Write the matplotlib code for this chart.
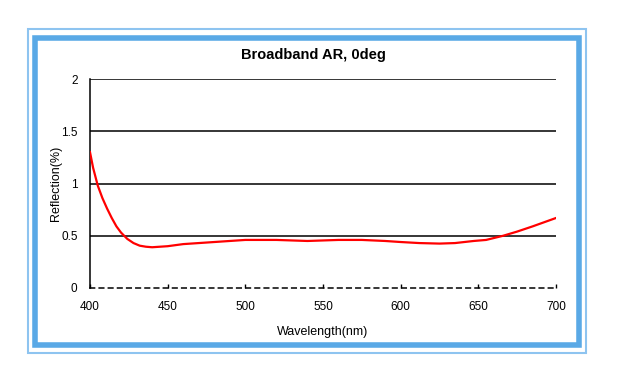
import numpy as np
import matplotlib.pyplot as plt
from matplotlib.patches import Rectangle

# values
wavelength = [400, 402, 405, 408, 411, 414, 417, 420, 424, 428, 432, 436, 440, 445, 450, 460, 470,
              480, 490, 500, 520, 540, 560, 575, 590, 600, 612, 625, 635, 647, 655, 666, 675, 685, 700]
reflection = [1.30, 1.15, 0.98, 0.86, 0.76, 0.67, 0.59, 0.53, 0.47, 0.43, 0.405, 0.395, 0.39, 0.395,
              0.40, 0.42, 0.43, 0.44, 0.45, 0.46, 0.46, 0.45, 0.46, 0.46, 0.45, 0.44, 0.43, 0.425,
              0.43, 0.45, 0.46, 0.50, 0.54, 0.59, 0.67]
xticks = [400, 450, 500, 550, 600, 650, 700]
yticks = [0, 0.5, 1, 1.5, 2]
ytick_labels = ["0", "0.5", "1", "1.5", "2"]

plt.rcParams["font.family"] = ["Liberation Sans", "DejaVu Sans"]

W, H = 618, 384
fig = plt.figure(figsize=(W / 100, H / 100), dpi=100)

# frames (pixel coords -> figure fraction)
def rect(x0, y0, x1, y1, **kw):
    fig.patches.append(Rectangle((x0 / W, 1 - y1 / H), (x1 - x0) / W, (y1 - y0) / H,
                                 transform=fig.transFigure, fill=False, **kw))

blue = "#5aa9e6"
rect(28, 29, 586, 353, edgecolor="#8ec4f0", linewidth=1.5)
rect(34.5, 38, 579, 344.5, edgecolor=blue, linewidth=4.0)

ax = fig.add_axes([90 / W, 1 - 288 / H, (556 - 90) / W, (288 - 79) / H])
ax.plot(wavelength, reflection, color="red", linewidth=1.6, zorder=3)

for y in [0.5, 1, 1.5, 2]:
    ax.axhline(y, color="black", linewidth=1.1, zorder=2)

ax.set_xlim(400, 700)
ax.set_ylim(0, 2)
ax.set_xticks(xticks)
ax.set_yticks(yticks)
ax.set_yticklabels(ytick_labels)
for s in ["top", "right"]:
    ax.spines[s].set_visible(False)
ax.spines["left"].set_linewidth(1.1)
ax.spines["bottom"].set_linestyle((0, (3, 3)))
ax.spines["bottom"].set_linewidth(1.1)
ax.tick_params(axis="x", direction="in", length=3, width=1, labelsize=8.5, pad=9)
ax.tick_params(axis="y", length=0, labelsize=8.5, pad=9)

ax.set_xlabel("Wavelength(nm)", fontsize=9, labelpad=10)
ax.set_ylabel("Reflection(%)", fontsize=9, labelpad=-1)
fig.text(313 / W, 1 - 55 / H, "Broadband AR, 0deg", ha="center", va="center",
         fontsize=10.5, fontweight="bold")

fig.savefig("out.png", dpi=100)
